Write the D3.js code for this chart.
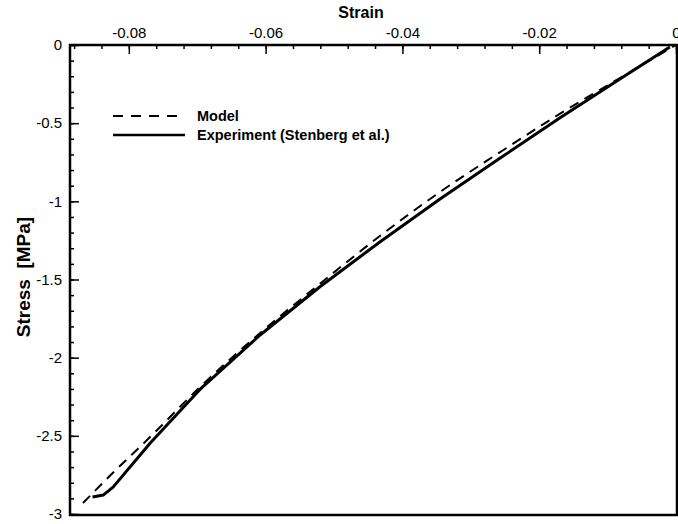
<!DOCTYPE html>
<html>
<head>
  <meta charset="utf-8">
  <script src="https://d3js.org/d3.v7.min.js"></script>
  <style>
    body { margin: 0; background: #fff; }
    svg { font-family: "Liberation Sans", Arial, sans-serif; }
    .tick text { font-size: 15px; fill: #000; }
    .tick line { stroke: #000; stroke-width: 1.5; }
    .domain { display: none; }
  </style>
</head>
<body>
<svg width="678" height="524"></svg>
<script>
// values
const modelStrain = [0, -0.0082, -0.0170, -0.0257, -0.0345, -0.0433, -0.0521, -0.0608, -0.0696, -0.0769, -0.0828, -0.0867];
const modelStress = [0, -0.211, -0.441, -0.685, -0.940, -1.222, -1.529, -1.842, -2.188, -2.508, -2.757, -2.930];

const expStrain = [-0.0009, -0.0082, -0.0170, -0.0257, -0.0345, -0.0433, -0.0521, -0.0608, -0.0696, -0.0769, -0.0823, -0.0837, -0.0853];
const expStress = [-0.013, -0.218, -0.467, -0.723, -0.985, -1.260, -1.548, -1.855, -2.203, -2.547, -2.828, -2.878, -2.891];

const xTicks = [-0.08, -0.06, -0.04, -0.02, 0];
const yTicks = [0, -0.5, -1, -1.5, -2, -2.5, -3];

const svg = d3.select("svg");
const mLeft = 70, mRight = 676, mTop = 45, mBottom = 514;

const x = d3.scaleLinear().domain([-0.0886, 0]).range([mLeft, mRight]);
const y = d3.scaleLinear().domain([-3, 0]).range([mBottom, mTop]);

const xMinor = d3.range(-0.088, 0.0001, 0.004);
const yMinor = d3.range(-3, 0.0001, 0.1);

// x axis on top, ticks pointing in
svg.append("g")
  .attr("transform", `translate(0,${mTop})`)
  .call(d3.axisTop(x).tickValues(xMinor).tickSize(-4).tickFormat(""));
svg.append("g")
  .attr("transform", `translate(0,${mTop})`)
  .call(d3.axisTop(x).tickValues(xTicks).tickSize(-9).tickPadding(7)
    .tickFormat(d => d === 0 ? "0" : d.toFixed(2)));

// y axis on left
svg.append("g")
  .attr("transform", `translate(${mLeft},0)`)
  .call(d3.axisLeft(y).tickValues(yMinor).tickSize(-4).tickFormat(""));
svg.append("g")
  .attr("transform", `translate(${mLeft},0)`)
  .call(d3.axisLeft(y).tickValues(yTicks).tickSize(-9).tickPadding(8)
    .tickFormat(d => d === 0 ? "0" : String(d)));

// frame
svg.append("rect")
  .attr("x", mLeft).attr("y", mTop)
  .attr("width", mRight + 1 - mLeft).attr("height", mBottom + 1 - mTop)
  .attr("fill", "none").attr("stroke", "#000").attr("stroke-width", 2.5);

// axis titles
svg.append("text")
  .attr("x", 361).attr("y", 18)
  .attr("text-anchor", "middle")
  .style("font-size", "16px").style("font-weight", "bold")
  .text("Strain");

svg.append("text")
  .attr("transform", "translate(30,277) rotate(-90)")
  .attr("text-anchor", "middle")
  .style("font-size", "19px").style("font-weight", "bold")
  .style("white-space", "pre")
  .text("Stress  [MPa]");

// model is smooth, experiment keeps its sharp start
const modelLine = d3.line()
  .x(d => x(d[0])).y(d => y(d[1]))
  .curve(d3.curveMonotoneX);
const expLine = d3.line()
  .x(d => x(d[0])).y(d => y(d[1]));

const modelData = modelStrain.map((s, i) => [s, modelStress[i]]).sort((a, b) => a[0] - b[0]);
const expData = expStrain.map((s, i) => [s, expStress[i]]);

svg.append("path")
  .datum(expData)
  .attr("fill", "none").attr("stroke", "#000").attr("stroke-width", 3)
  .attr("stroke-linejoin", "round")
  .attr("d", expLine);

svg.append("path")
  .datum(modelData)
  .attr("fill", "none").attr("stroke", "#000").attr("stroke-width", 2)
  .attr("stroke-dasharray", "10,7")
  .attr("d", modelLine);

// legend
const legend = svg.append("g");
legend.append("line")
  .attr("x1", 113).attr("x2", 185).attr("y1", 116).attr("y2", 116)
  .attr("stroke", "#000").attr("stroke-width", 2).attr("stroke-dasharray", "10,8");
legend.append("text")
  .attr("x", 197).attr("y", 121)
  .style("font-size", "14.5px").style("font-weight", "bold")
  .text("Model");
legend.append("line")
  .attr("x1", 113).attr("x2", 185).attr("y1", 135).attr("y2", 135)
  .attr("stroke", "#000").attr("stroke-width", 2.5);
legend.append("text")
  .attr("x", 197).attr("y", 140)
  .style("font-size", "14.5px").style("font-weight", "bold")
  .text("Experiment (Stenberg et al.)");
</script>
</body>
</html>
